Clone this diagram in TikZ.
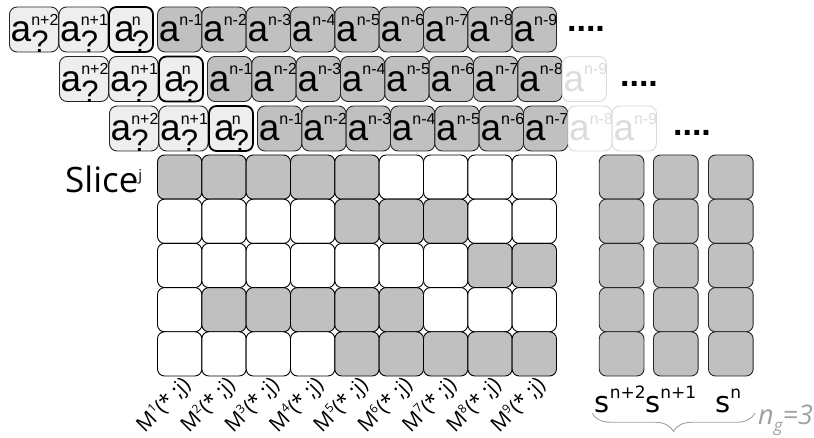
\documentclass[tikz,border=0pt]{standalone}
\usepackage{fontspec}
\setmainfont{Liberation Sans}
\newfontfamily\osans{Open Sans}
\newfontfamily\dsans{DejaVu Sans}
\usetikzlibrary{decorations.pathreplacing}
\definecolor{cellgray}{HTML}{C0C0C0}
\definecolor{qfill}{HTML}{EEEEEE}
\definecolor{fadeline}{HTML}{DADADA}
\definecolor{fadetext}{HTML}{DCDCDC}
\definecolor{bracegray}{HTML}{A0A0A0}
\newcommand\asup[1]{\fontsize{37}{37}\selectfont a\raisebox{16.5pt}{\fontsize{16}{16}\selectfont #1}}
\newcommand\aq[2]{\fontsize{37}{37}\selectfont a\kern#2\rlap{\raisebox{16.5pt}{\fontsize{16}{16}\selectfont #1}}\raisebox{-11pt}{\fontsize{31}{31}\selectfont ?}}
\tikzset{
  basebox/.style={rectangle, rounded corners=7.5pt, inner sep=0pt, line width=0.9pt},
  abox/.style={basebox, draw=black!85, fill=cellgray, minimum width=44.33pt, minimum height=45pt},
  fbox/.style={basebox, draw=fadeline, fill=white, minimum width=44.33pt, minimum height=45pt},
  qbox/.style={basebox, draw=black!85, fill=qfill, minimum width=49pt, minimum height=45pt},
  qbold/.style={basebox, draw=black, line width=1.8pt, fill=qfill, minimum width=44pt, minimum height=45pt},
  gcell/.style={basebox, rounded corners=7pt, draw=black, minimum width=44.33pt, minimum height=44.2pt},
  rcell/.style={basebox, rounded corners=7pt, draw=black!85, fill=cellgray, minimum width=44.7pt, minimum height=44.2pt},
  atext/.style={anchor=base west, inner sep=0pt},
  dots/.style={anchor=base, inner sep=0pt, font=\bfseries\fontsize{34}{34}\selectfont},
  mlab/.style={rotate=45, anchor=east, inner sep=0pt, font=\osans\fontsize{21}{21}\selectfont},
}
\begin{document}
\begin{tikzpicture}[x=1pt,y=-1pt]
\useasboundingbox (0,0) rectangle (814,438);

% ---- three rows of a-boxes
\foreach \r/\dy in {0/32,1/87,2/135.5} {
  \pgfmathsetmacro\d{50*\r}
  \pgfmathsetmacro\yc{29.5+49.5*\r}
  \pgfmathsetmacro\yb{41.7+49.5*\r}
  \pgfmathtruncatemacro\lim{9-\r}
  \node[qbox] (q\r a) at (34+\d,\yc) {};
  \node[qbox] (q\r b) at (83.5+\d,\yc) {};
  \node[qbold] (q\r c) at (131+\d,\yc) {};
  \node[atext] (tq\r a) at (10.5+\d,\yb) {\aq{n+2}{0pt}};
  \node[atext] (tq\r b) at (60+\d,\yb) {\aq{n+1}{0pt}};
  \node[atext] (tq\r c) at (114+\d,\yb) {\aq{n}{-3pt}};
  \foreach \k in {1,...,9} {
    \pgfmathsetmacro\xc{157.5+\d+44.33*(\k-1)+22.165}
    \pgfmathsetmacro\xl{157.5+\d+44.33*(\k-1)+1.2}
    \ifnum\k>\lim
      \node[fbox] (g\r-\k) at (\xc,\yc) {};
      \node[atext, text=fadetext] (tg\r-\k) at (\xl,\yb) {\asup{n-\k}};
    \else
      \node[abox] (g\r-\k) at (\xc,\yc) {};
      \node[atext] (tg\r-\k) at (\xl,\yb) {\asup{n-\k}};
    \fi
  }
  \pgfmathsetmacro\xd{586+50*\r+3*\r}
  \node[dots] (dots\r) at (\xd,\dy) {....};
}

% ---- Slice label
\node[anchor=base west, inner sep=0pt] (slice) at (65,192.7)
  {\osans\fontsize{35}{35}\selectfont Slice\raisebox{12pt}{\fontsize{15}{15}\selectfont j}};

% ---- main grid
\foreach \i/\pat in {1/{1,1,1,1,1,0,0,0,0},2/{0,0,0,0,1,1,1,0,0},3/{0,0,0,0,0,0,0,1,1},4/{0,1,1,1,1,1,0,0,0},5/{0,0,0,0,1,1,1,1,1}} {
  \foreach \v [count=\j] in \pat {
    \pgfmathsetmacro\xc{157.5+44.33*(\j-0.5)}
    \pgfmathsetmacro\yc{155+44.2*(\i-0.5)}
    \ifnum\v=1
      \node[gcell, fill=cellgray] (c\i-\j) at (\xc,\yc) {};
    \else
      \node[gcell, fill=white] (c\i-\j) at (\xc,\yc) {};
    \fi
  }
}

% ---- M labels
\foreach \j in {1,...,9} {
  \pgfmathsetmacro\xc{157.5+44.33*(\j-0.5)+8}
  \node[mlab] (m\j) at (\xc,382) {M\raisebox{8pt}{\fontsize{12}{12}\selectfont \j}(* ;j)};
}

% ---- right columns
\foreach \xc [count=\c] in {621.6,675.8,730.8} {
  \foreach \i in {1,...,5} {
    \pgfmathsetmacro\yc{155+44.2*(\i-0.5)}
    \node[rcell] (s\c-\i) at (\xc,\yc) {};
  }
}

% ---- s labels
\node[anchor=base west, inner sep=0pt] (s1) at (594.5,412.3)
  {\dsans\fontsize{29}{29}\selectfont s\raisebox{14pt}{\fontsize{17}{17}\selectfont n+2}};
\node[anchor=base west, inner sep=0pt] (s2) at (645,412.3)
  {\dsans\fontsize{29}{29}\selectfont s\raisebox{14pt}{\fontsize{17}{17}\selectfont n+1}};
\node[anchor=base west, inner sep=0pt] (s3) at (715,412.3)
  {\dsans\fontsize{29}{29}\selectfont s\raisebox{14pt}{\fontsize{17}{17}\selectfont n}};

% ---- brace
\coordinate (bl) at (592,413);
\coordinate (br) at (755,413);
\draw[bracegray, line width=0.9pt, decorate, decoration={brace, mirror, amplitude=18.5pt}] (bl) -- (br);
\node[anchor=base west, inner sep=0pt, text=bracegray] (ng) at (758,424)
  {\osans\itshape\fontsize{27}{27}\selectfont n\raisebox{-7pt}{\fontsize{17}{17}\selectfont g}=3};
\end{tikzpicture}
\end{document}
